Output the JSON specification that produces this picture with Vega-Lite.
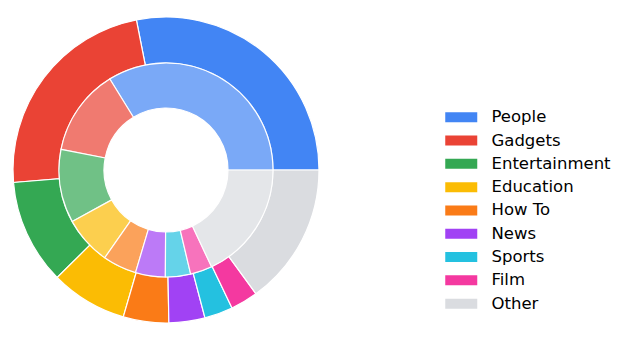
{
  "$schema": "https://vega.github.io/schema/vega-lite/v6.json",
  "width": 332,
  "height": 340,
  "autosize": {"type": "none"},
  "padding": {"left": 0, "top": 0, "right": 295, "bottom": 0},
  "background": "white",
  "data": {
    "values": [
      {"ring": "outer", "category": "People", "value": 28.1, "order": 1},
      {"ring": "outer", "category": "Gadgets", "value": 23.2, "order": 2},
      {"ring": "outer", "category": "Entertainment", "value": 11.1, "order": 3},
      {"ring": "outer", "category": "Education", "value": 8.1, "order": 4},
      {"ring": "outer", "category": "How To", "value": 4.8, "order": 5},
      {"ring": "outer", "category": "News", "value": 3.8, "order": 6},
      {"ring": "outer", "category": "Sports", "value": 3.0, "order": 7},
      {"ring": "outer", "category": "Film", "value": 2.9, "order": 8},
      {"ring": "outer", "category": "Other", "value": 15.0, "order": 9},
      {"ring": "inner", "category": "People", "value": 33.8, "order": 1},
      {"ring": "inner", "category": "Gadgets", "value": 13.1, "order": 2},
      {"ring": "inner", "category": "Entertainment", "value": 11.1, "order": 3},
      {"ring": "inner", "category": "Education", "value": 7.3, "order": 4},
      {"ring": "inner", "category": "How To", "value": 5.1, "order": 5},
      {"ring": "inner", "category": "News", "value": 4.5, "order": 6},
      {"ring": "inner", "category": "Sports", "value": 3.8, "order": 7},
      {"ring": "inner", "category": "Film", "value": 3.3, "order": 8},
      {"ring": "inner", "category": "Other", "value": 18.0, "order": 9}
    ]
  },
  "encoding": {
    "theta": {"field": "value", "type": "quantitative", "stack": true, "scale": {"domain": [0, 100], "range": [1.5708, -4.7124]}},
    "order": {"field": "order", "type": "quantitative"},
    "color": {
      "field": "category",
      "type": "nominal",
      "scale": {
        "domain": ["People", "Gadgets", "Entertainment", "Education", "How To", "News", "Sports", "Film", "Other"],
        "range": ["#4285F4", "#EA4335", "#34A853", "#FBBC04", "#FA7B17", "#A142F4", "#24C1E0", "#F439A0", "#DADCE0"]
      },
      "legend": {
        "title": null,
        "orient": "none",
        "legendX": 453,
        "legendY": 109,
        "symbolType": "M-2,-0.625H2V0.625H-2Z",
        "symbolSize": 256,
        "symbolStrokeWidth": 0,
        "symbolOpacity": 1,
        "labelFont": "DejaVu Sans",
        "labelFontSize": 16.5,
        "labelColor": "#000000",
        "labelOffset": 22,
        "rowPadding": 6.3,
        "padding": 0
      }
    }
  },
  "layer": [
    {
      "transform": [{"filter": "datum.ring === 'outer'"}],
      "mark": {"type": "arc", "radius": 153, "radius2": 107, "stroke": "white", "strokeWidth": 1.2}
    },
    {
      "transform": [{"filter": "datum.ring === 'inner'"}],
      "mark": {"type": "arc", "radius": 107, "radius2": 62, "stroke": "white", "strokeWidth": 1.2, "opacity": 0.7}
    }
  ],
  "config": {"view": {"stroke": null}}
}
